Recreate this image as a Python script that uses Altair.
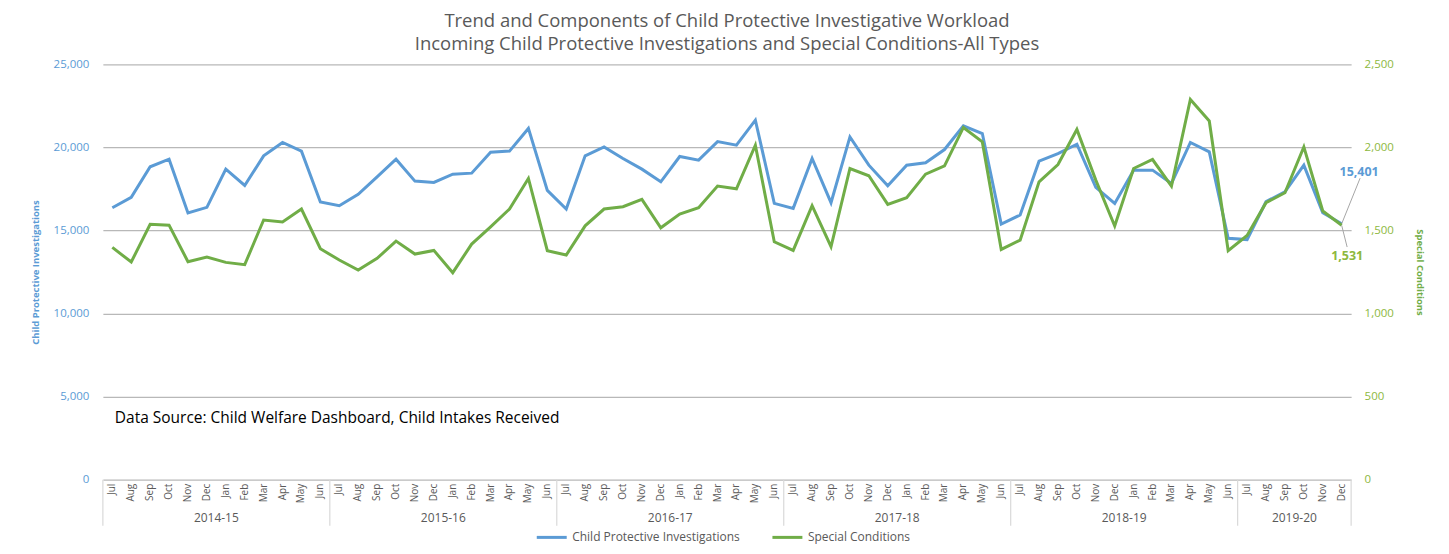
import altair as alt
import pandas as pd

MONTHS = ["Jul", "Aug", "Sep", "Oct", "Nov", "Dec", "Jan", "Feb", "Mar", "Apr", "May", "Jun"]
FISCAL_YEARS = ["2014-15", "2015-16", "2016-17", "2017-18", "2018-19", "2019-20"]

CPI = [
    16365, 16990, 18830, 19290, 16050, 16390, 18690, 17710, 19490, 20295, 19775, 16710,
    16485, 17170, 18230, 19290, 17970, 17890, 18390, 18450, 19710, 19775, 21140, 17410,
    16290, 19490, 20030, 19330, 18690, 17930, 19450, 19230, 20350, 20130, 21640, 16630,
    16330, 19330, 16670, 20630, 18930, 17690, 18930, 19070, 19870, 21295, 20835, 15390,
    15930, 19170, 19630, 20190, 17590, 16630, 18630, 18630, 17830, 20295, 19730, 14525,
    14450, 16730, 17330, 18930, 16065, 15401,
]
SPECIAL = [
    1398, 1310, 1537, 1532, 1312, 1340, 1308, 1294, 1563, 1551, 1629, 1390,
    1322, 1262, 1332, 1436, 1358, 1380, 1246, 1418, 1522, 1629, 1813, 1378,
    1352, 1528, 1629, 1643, 1687, 1516, 1599, 1637, 1767, 1751, 2013, 1432,
    1380, 1649, 1402, 1873, 1829, 1657, 1697, 1839, 1889, 2120, 2033, 1386,
    1442, 1793, 1897, 2108, 1803, 1527, 1873, 1927, 1767, 2288, 2159, 1378,
    1470, 1667, 1727, 2003, 1617, 1531,
]

TITLE = ["Trend and Components of Child Protective Investigative Workload",
         "Incoming Child Protective Investigations and Special Conditions-All Types"]
SOURCE = "Data Source: Child Welfare Dashboard, Child Intakes Received"
S1 = "Child Protective Investigations"
S2 = "Special Conditions"

BLUE = "#5B9BD5"
GREEN = "#70AD47"
GREEN_TXT = "#8DB83E"
GRAY = "#595959"
FONT = "Open Sans"

n = len(CPI)
df = pd.DataFrame({
    "idx": list(range(n)),
    "month": [MONTHS[i % 12] for i in range(n)],
    "fy": [FISCAL_YEARS[i // 12] for i in range(n)],
    "cpi": CPI,
    "sc": SPECIAL,
    "s1": [S1] * n,
    "s2": [S2] * n,
})
last = df.tail(1)

fy_rows = []
for k, fy in enumerate(FISCAL_YEARS):
    idxs = [i for i in range(n) if i // 12 == k]
    fy_rows.append({"fy": fy, "center": (idxs[0] + idxs[-1]) / 2})
fy_df = pd.DataFrame(fy_rows)
bounds = [-0.5] + [k * 12 - 0.5 for k in range(1, len(FISCAL_YEARS))] + [n - 0.5]
bound_df = pd.DataFrame({"b": bounds})

W, H = 1250, 416
xs = alt.Scale(domain=[-0.5, n - 0.5], nice=False, zero=False)
X = alt.X("idx:Q", scale=xs, axis=None)

cscale = alt.Scale(domain=[S1, S2], range=[BLUE, GREEN])
legend = alt.Legend(
    title=None, orient="none", direction="horizontal", legendX=433, legendY=457,
    symbolType="stroke", symbolSize=900, symbolStrokeWidth=3,
    labelFont=FONT, labelFontSize=12, labelColor=GRAY, labelLimit=400, columnPadding=26,
)

blue_line = alt.Chart(df).mark_line(strokeWidth=3).encode(
    x=X,
    y=alt.Y("cpi:Q", scale=alt.Scale(domain=[0, 25000], nice=False),
            axis=alt.Axis(values=[0, 5000, 10000, 15000, 20000, 25000], format=",.0f",
                          title=S1, titleColor=BLUE, titleFont=FONT, titleFontSize=9.5,
                          titleFontWeight="bold", titlePadding=13,
                          labelColor=BLUE, labelFont=FONT, labelFontSize=11.5, labelPadding=14,
                          domain=False, ticks=False, grid=True, gridColor="#B8B8B8",
                          gridWidth=1.2)),
    color=alt.Color("s1:N", scale=cscale, legend=legend),
)
blue_leader = alt.Chart(last).mark_rule(color="#A6A6A6", strokeWidth=1).encode(
    x=X, y="cpi:Q", x2=alt.value(1259), y2=alt.value(114))
blue_label = alt.Chart(last).mark_text(
    dx=17.5, dy=-52, fontSize=12.5, fontWeight="bold", color=BLUE, font=FONT
).encode(x=X, y="cpi:Q", text=alt.Text("cpi:Q", format=",.0f"))

green_line = alt.Chart(df).mark_line(strokeWidth=3).encode(
    x=X,
    y=alt.Y("sc:Q", scale=alt.Scale(domain=[0, 2500], nice=False),
            axis=alt.Axis(orient="right", values=[0, 500, 1000, 1500, 2000, 2500], format=",.0f",
                          title=S2, titleColor=GREEN, titleFont=FONT, titleFontSize=9.5,
                          titleFontWeight="bold", titlePadding=21,
                          labelColor=GREEN_TXT, labelFont=FONT, labelFontSize=11.5, labelPadding=13,
                          domain=False, ticks=False, grid=False)),
    color=alt.Color("s2:N", scale=cscale, legend=legend),
)
green_leader = alt.Chart(last).mark_rule(color="#A6A6A6", strokeWidth=1).encode(
    x=X, y="sc:Q", x2=alt.value(1246), y2=alt.value(183))
green_label = alt.Chart(last).mark_text(
    dx=5.5, dy=31, fontSize=12.5, fontWeight="bold", color=GREEN_TXT, font=FONT
).encode(x=X, y="sc:Q", text=alt.Text("sc:Q", format=",.0f"))

blue_grp = alt.layer(blue_line, blue_leader, blue_label)
green_grp = alt.layer(green_line, green_leader, green_label)

months = alt.Chart(df).mark_text(
    angle=270, align="right", baseline="middle", fontSize=10, color=GRAY, font=FONT
).encode(x=X, y=alt.value(H + 4), text="month:N")

years = alt.Chart(fy_df).mark_text(
    baseline="middle", fontSize=12, color=GRAY, font=FONT
).encode(x=alt.X("center:Q", scale=xs, axis=None), y=alt.value(H + 38), text="fy:N")

seps = alt.Chart(bound_df).mark_rule(color="#D9D9D9", strokeWidth=1.2).encode(
    x=alt.X("b:Q", scale=xs, axis=None), y=alt.value(H), y2=alt.value(H + 46))

source = alt.Chart(pd.DataFrame({"t": [SOURCE]})).mark_text(
    align="left", baseline="middle", fontSize=15.5, color="#000000", font=FONT
).encode(x=alt.value(12), y=alt.value(354), text="t:N")

chart = alt.layer(blue_grp, green_grp, months, years, seps, source).resolve_scale(
    y="independent"
).properties(
    width=W, height=H,
    title=alt.TitleParams(TITLE, fontSize=18.5, font=FONT, fontWeight="normal", color=GRAY,
                          anchor="middle", offset=5, lineHeight=23),
    autosize=alt.AutoSizeParams(type="none"),
    padding={"left": 95, "top": 56, "right": 90, "bottom": 65},
).configure_view(stroke=None)

chart.save("out.html", embed_options={"renderer": "svg", "actions": False})
